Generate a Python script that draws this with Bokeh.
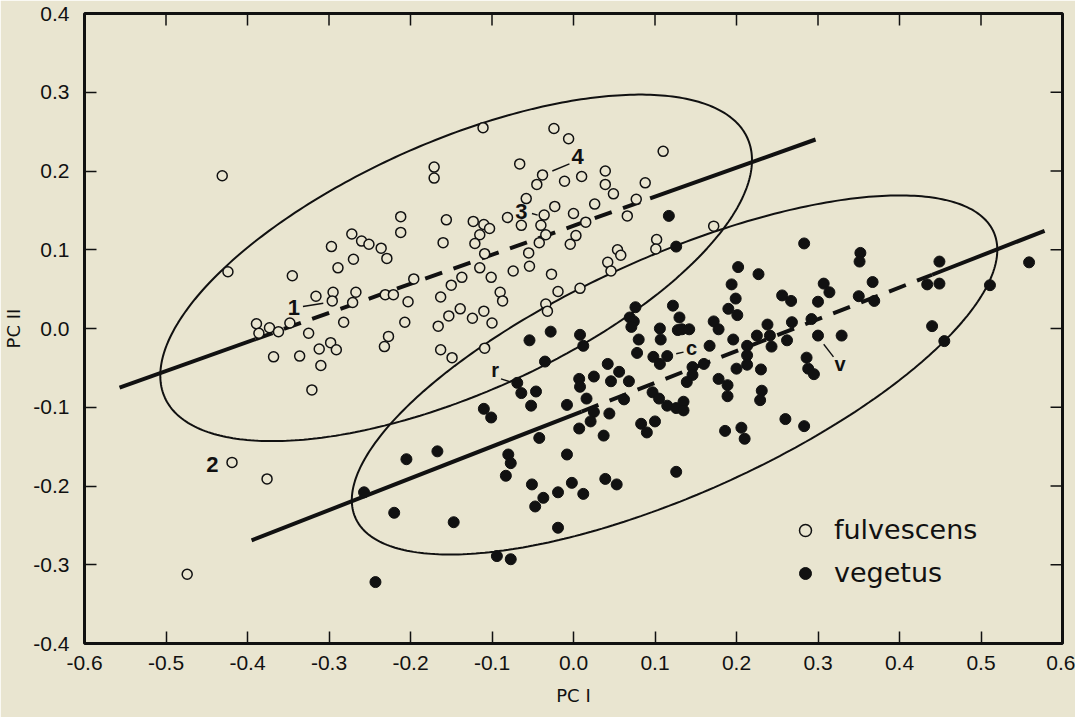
import numpy as np
from bokeh.plotting import figure
from bokeh.models import FixedTicker, Range1d, Legend, LegendItem, PrintfTickFormatter
from bokeh.embed import file_html
from bokeh.resources import INLINE
from bokeh.core.properties import value

# ---------------- data ----------------
fulv_x = [-0.431, -0.424, -0.171, -0.171, -0.212, -0.212, -0.272, -0.260, -0.251, -0.236,
          -0.229, -0.297, -0.270, -0.289, -0.345, -0.196, -0.316, -0.295, -0.296, -0.267,
          -0.271, -0.231, -0.221, -0.203, -0.389, -0.373, -0.362, -0.386, -0.348, -0.325,
          -0.282, -0.207, -0.227, -0.232, -0.298, -0.312, -0.291, -0.368, -0.336, -0.310,
          -0.321,
          -0.111, -0.024, -0.006, 0.110, -0.066, -0.038, -0.045, -0.011, 0.010, 0.039,
          0.039, 0.049, 0.088, 0.077, -0.058, 0.026, -0.023, -0.036, -0.064, -0.081,
          -0.040, -0.034, 0.000, 0.015, 0.003, -0.004, 0.066, -0.042, -0.055, -0.054,
          -0.074, -0.027, -0.019, 0.008, -0.034, -0.032, 0.042, 0.054, 0.058, 0.046,
          0.102, 0.101, 0.172, -0.156, -0.123, -0.110, -0.103, -0.115, -0.121, -0.160,
          -0.109, -0.115, -0.101, -0.137, -0.150, -0.163, -0.090, -0.087, -0.139, -0.153,
          -0.124, -0.110, -0.100, -0.166, -0.109, -0.163, -0.149,
          -0.419, -0.376, -0.474]
fulv_y = [0.194, 0.072, 0.205, 0.191, 0.142, 0.122, 0.120, 0.111, 0.107, 0.102,
          0.089, 0.104, 0.088, 0.077, 0.067, 0.063, 0.041, 0.046, 0.035, 0.046,
          0.033, 0.043, 0.043, 0.034, 0.006, 0.001, -0.004, -0.006, 0.007, -0.006,
          0.008, 0.008, -0.010, -0.023, -0.018, -0.026, -0.027, -0.036, -0.035, -0.047,
          -0.078,
          0.255, 0.254, 0.241, 0.225, 0.209, 0.195, 0.183, 0.187, 0.193, 0.200,
          0.183, 0.171, 0.185, 0.164, 0.165, 0.158, 0.155, 0.144, 0.131, 0.141,
          0.131, 0.119, 0.146, 0.135, 0.118, 0.107, 0.143, 0.109, 0.096, 0.079,
          0.073, 0.069, 0.047, 0.051, 0.031, 0.022, 0.084, 0.100, 0.093, 0.073,
          0.113, 0.101, 0.130, 0.138, 0.136, 0.132, 0.127, 0.119, 0.108, 0.109,
          0.095, 0.077, 0.065, 0.065, 0.055, 0.040, 0.046, 0.035, 0.025, 0.016,
          0.013, 0.022, 0.007, 0.003, -0.025, -0.027, -0.037,
          -0.170, -0.191, -0.312]

veg_x = [0.117, 0.126,
         0.076, 0.122, 0.069, 0.074, 0.071, 0.080, 0.106, 0.107, 0.128, 0.078,
         0.098, 0.106, 0.115, -0.054, -0.028, 0.008, 0.012, -0.035, -0.069, -0.064,
         -0.046, -0.052, -0.110, -0.101, 0.007, 0.008, 0.025, 0.042, 0.056, 0.046,
         0.068, 0.016, -0.008, 0.025, 0.021, 0.044, 0.062, 0.007, 0.037, 0.097,
         0.105, 0.115, 0.126, 0.083, 0.100, 0.090, -0.042, -0.008, -0.080, -0.077,
         -0.083, -0.167, -0.205, -0.257, -0.220, -0.147, -0.051, -0.037, -0.047, -0.019,
         -0.002, 0.012, 0.039, 0.053, -0.019, -0.094, -0.077, 0.126, -0.243,
         0.283, 0.352, 0.351, 0.449, 0.559, 0.434, 0.449, 0.511, 0.367, 0.369,
         0.350, 0.440, 0.455, 0.202, 0.227, 0.194, 0.199, 0.190, 0.201, 0.130,
         0.133, 0.142, 0.172, 0.178, 0.256, 0.267, 0.307, 0.314, 0.300, 0.268,
         0.292, 0.238, 0.225, 0.241, 0.243, 0.262, 0.300, 0.329, 0.196, 0.167,
         0.213, 0.213, 0.213, 0.200, 0.230, 0.160, 0.146, 0.146, 0.139, 0.286,
         0.288, 0.295, 0.178, 0.189, 0.189, 0.231, 0.229, 0.135, 0.135, 0.260,
         0.283, 0.186, 0.206, 0.210]
veg_y = [0.143, 0.104,
         0.027, 0.029, 0.014, 0.009, 0.002, -0.014, 0.000, -0.014, -0.002, -0.031,
         -0.036, -0.045, -0.035, -0.015, -0.004, -0.008, -0.022, -0.042, -0.069, -0.082,
         -0.080, -0.098, -0.102, -0.113, -0.064, -0.074, -0.061, -0.045, -0.055, -0.067,
         -0.067, -0.089, -0.097, -0.106, -0.118, -0.108, -0.090, -0.127, -0.136, -0.081,
         -0.089, -0.098, -0.101, -0.121, -0.118, -0.132, -0.139, -0.160, -0.160, -0.171,
         -0.187, -0.156, -0.166, -0.208, -0.234, -0.246, -0.198, -0.215, -0.226, -0.208,
         -0.196, -0.210, -0.191, -0.198, -0.253, -0.289, -0.293, -0.182, -0.322,
         0.108, 0.096, 0.085, 0.085, 0.084, 0.056, 0.057, 0.055, 0.059, 0.035,
         0.041, 0.003, -0.016, 0.078, 0.069, 0.056, 0.038, 0.025, 0.017, 0.014,
         -0.001, -0.001, 0.009, -0.001, 0.042, 0.035, 0.057, 0.046, 0.034, 0.008,
         0.012, 0.005, -0.009, -0.009, -0.023, -0.015, -0.009, -0.009, -0.014, -0.022,
         -0.022, -0.034, -0.046, -0.051, -0.052, -0.045, -0.049, -0.059, -0.068, -0.037,
         -0.051, -0.058, -0.064, -0.072, -0.086, -0.079, -0.091, -0.093, -0.104, -0.115,
         -0.124, -0.130, -0.126, -0.140]

# principal-axis lines: end points and the dashed middle stretch
fulv_line_x = [-0.557, 0.297]
fulv_line_y = [-0.075, 0.240]
fulv_dash_x = [-0.390, 0.094]
veg_line_x = [-0.395, 0.578]
veg_line_y = [-0.269, 0.124]
veg_dash_x = [0.010, 0.440]

# ellipses: centre, half extent in x and y, phase between x and y
fulv_ell = dict(cx=-0.144, cy=0.077, hx=0.363, hy=0.220, phase=0.90)
veg_ell = dict(cx=0.124, cy=-0.059, hx=0.396, hy=0.228, phase=0.80)

# labels of particular specimens
num_text = ["1", "2", "3", "4"]
num_x = [-0.343, -0.443, -0.064, 0.005]
num_y = [0.027, -0.173, 0.149, 0.218]
let_text = ["r", "c", "v"]
let_x = [-0.096, 0.145, 0.327]
let_y = [-0.053, -0.025, -0.045]
lead_x0 = [-0.332, -0.051, -0.026, -0.089, 0.126, 0.307]
lead_y0 = [0.028, 0.146, 0.200, -0.064, -0.032, -0.020]
lead_x1 = [-0.307, -0.044, -0.005, -0.077, 0.135, 0.319]
lead_y1 = [0.032, 0.144, 0.209, -0.068, -0.030, -0.036]

x_ticks = [-0.6, -0.5, -0.4, -0.3, -0.2, -0.1, 0.0, 0.1, 0.2, 0.3, 0.4, 0.5, 0.6]
y_ticks = [-0.4, -0.3, -0.2, -0.1, 0.0, 0.1, 0.2, 0.3, 0.4]

# ---------------- styling ----------------
BG = "#E9E5D0"
INK = "#111111"
TICK_FONT = "Liberation Sans"
TEXT_FONT = "DejaVu Sans"
W, H = 1075, 717
BL, BR, BT, BB = 80, 13, 13, 74
XR = (-0.6, 0.6)
YR = (-0.4, 0.4)
TICK_PX = 12

p = figure(width=W, height=H, x_range=Range1d(*XR), y_range=Range1d(*YR),
           output_backend="svg", toolbar_location=None,
           min_border_left=BL, min_border_right=BR, min_border_top=BT, min_border_bottom=BB)
p.background_fill_color = BG
p.border_fill_color = BG
p.outline_line_color = INK
p.outline_line_width = 3
p.grid.visible = False

for ax, ticks in ((p.xaxis[0], x_ticks), (p.yaxis[0], y_ticks)):
    ax.ticker = FixedTicker(ticks=ticks)
    ax.formatter = PrintfTickFormatter(format="%.1f")
    ax.axis_line_color = None
    ax.major_tick_in = TICK_PX
    ax.major_tick_out = 0
    ax.major_tick_line_width = 1.5
    ax.major_tick_line_color = INK
    ax.minor_tick_line_color = None
    ax.major_label_text_font = TICK_FONT
    ax.major_label_text_font_size = "21px"
    ax.major_label_text_color = INK
    ax.axis_label_text_font = TEXT_FONT
    ax.axis_label_text_font_size = "18px"
    ax.axis_label_text_font_style = "normal"
    ax.axis_label_text_color = INK

p.xaxis.axis_label = "PC I"
p.yaxis.axis_label = "PC II"
p.xaxis.major_label_standoff = 12
p.xaxis.axis_label_standoff = 12
p.yaxis.major_label_standoff = 15
p.yaxis.axis_label_standoff = 6

# inward ticks on the top and right edges of the frame
frame_w = W - BL - BR
frame_h = H - BT - BB
dy_tick = TICK_PX / frame_h * (YR[1] - YR[0])
dx_tick = TICK_PX / frame_w * (XR[1] - XR[0])
p.segment(x_ticks, [YR[1]] * len(x_ticks), x_ticks, [YR[1] - dy_tick] * len(x_ticks),
          line_color=INK, line_width=1.5)
p.segment([XR[1]] * len(y_ticks), y_ticks, [XR[1] - dx_tick] * len(y_ticks), y_ticks,
          line_color=INK, line_width=1.5)

# ellipses
t = np.linspace(0, 2 * np.pi, 361)
for e in (fulv_ell, veg_ell):
    ex = e["cx"] + e["hx"] * np.cos(t)
    ey = e["cy"] + e["hy"] * np.cos(t - e["phase"])
    p.line(ex, ey, line_color=INK, line_width=2)

# principal lines: solid outer parts, dashed middle
for lx, ly, dx in ((fulv_line_x, fulv_line_y, fulv_dash_x), (veg_line_x, veg_line_y, veg_dash_x)):
    dy = list(np.interp(dx, lx, ly))
    p.line([lx[0], dx[0]], [ly[0], dy[0]], line_color=INK, line_width=4)
    p.line([dx[0], dx[1]], dy, line_color=INK, line_width=4, line_dash="18 12")
    p.line([dx[1], lx[1]], [dy[1], ly[1]], line_color=INK, line_width=4)

# leader lines
p.segment(lead_x0, lead_y0, lead_x1, lead_y1, line_color=INK, line_width=1.4)

# points
r_open = p.scatter(fulv_x, fulv_y, size=10, marker="circle", fill_color=BG,
                   line_color=INK, line_width=1.5)
r_fill = p.scatter(veg_x, veg_y, size=11, marker="circle", fill_color=INK,
                   line_color=INK, line_width=1)

# specimen labels
p.text(num_x, num_y, text=num_text, text_font=value(TICK_FONT), text_font_style="bold",
       text_font_size="22px", text_align="center", text_baseline="middle", text_color=INK)
p.text(let_x, let_y, text=let_text, text_font=value(TICK_FONT), text_font_style="bold",
       text_font_size="20px", text_align="center", text_baseline="middle", text_color=INK)

legend = Legend(items=[LegendItem(label="fulvescens", renderers=[r_open]),
                       LegendItem(label="vegetus", renderers=[r_fill])],
                location=(706, 55), orientation="vertical",
                glyph_width=30, glyph_height=30, label_height=30, spacing=12,
                padding=0, margin=0, label_standoff=14,
                border_line_color=None, background_fill_alpha=0,
                label_text_font=TEXT_FONT, label_text_font_size="27px",
                label_text_color=INK)
p.add_layout(legend)

open("out.html", "w").write(file_html(p, INLINE))
